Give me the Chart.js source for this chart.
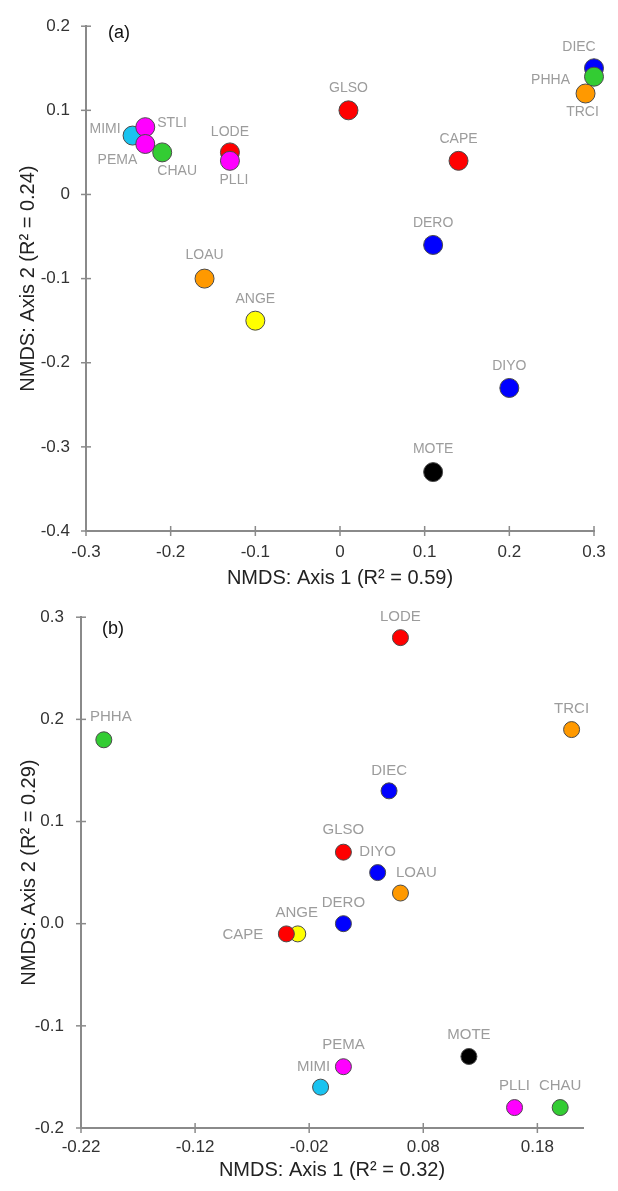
<!DOCTYPE html>
<html><head><meta charset="utf-8">
<script src="https://cdn.jsdelivr.net/npm/chart.js@4.4.1/dist/chart.umd.min.js"></script>
<style>
html,body{margin:0;padding:0;background:#fff;}
#wrap{position:relative;width:618px;height:1191px;overflow:hidden;}
canvas{position:absolute;left:0;}
</style></head><body>
<div id="wrap">
<canvas id="ca" width="618" height="590" style="top:0;width:618px;height:590px"></canvas>
<canvas id="cb" width="618" height="601" style="top:590px;width:618px;height:601px"></canvas>
</div>
<script>
// ---------- Panel (a) data ----------
const codesA = ['MIMI','STLI','PEMA','CHAU','LODE','PLLI','LOAU','ANGE','GLSO','CAPE','DERO','DIYO','MOTE','DIEC','PHHA','TRCI'];
const xA     = [-0.245,-0.23,-0.23,-0.21,-0.13,-0.13,-0.16,-0.10,0.01,0.14,0.11,0.20,0.11,0.30,0.30,0.29];
const yA     = [0.07,0.08,0.06,0.05,0.05,0.04,-0.10,-0.15,0.10,0.04,-0.06,-0.23,-0.33,0.15,0.14,0.12];
const groupA = ['cyan','magenta','magenta','green','red','magenta','orange','yellow','red','red','blue','blue','black','blue','green','orange'];
const xTicksA = [-0.3,-0.2,-0.1,0,0.1,0.2,0.3];
const xTickLabelsA = ['-0.3','-0.2','-0.1','0','0.1','0.2','0.3'];
const yTicksA = [-0.4,-0.3,-0.2,-0.1,0,0.1,0.2];
const yTickLabelsA = ['-0.4','-0.3','-0.2','-0.1','0','0.1','0.2'];

// ---------- Panel (b) data ----------
const codesB = ['PHHA','LODE','TRCI','DIEC','GLSO','DIYO','LOAU','DERO','ANGE','CAPE','PEMA','MIMI','MOTE','PLLI','CHAU'];
const xB     = [-0.20,0.06,0.21,0.05,0.01,0.04,0.06,0.01,-0.03,-0.04,0.01,-0.01,0.12,0.16,0.20];
const yB     = [0.18,0.28,0.19,0.13,0.07,0.05,0.03,0.00,-0.01,-0.01,-0.14,-0.16,-0.13,-0.18,-0.18];
const groupB = ['green','red','orange','blue','red','blue','orange','blue','yellow','red','magenta','cyan','black','magenta','green'];
const xTicksB = [-0.22,-0.12,-0.02,0.08,0.18];
const xTickLabelsB = ['-0.22','-0.12','-0.02','0.08','0.18'];
const yTicksB = [-0.2,-0.1,0,0.1,0.2,0.3];
const yTickLabelsB = ['-0.2','-0.1','0.0','0.1','0.2','0.3'];

// ---------- styles ----------
const palette = {red:'#ff0000', blue:'#0000ff', green:'#33cc33', orange:'#ff9900', yellow:'#ffff00', magenta:'#ff00ff', cyan:'#19c3f0', black:'#000000'};
const AXIS = '#8a8a8a';
const FONT = '"Liberation Sans", Arial, Helvetica, sans-serif';
Chart.defaults.font.family = FONT;

// label placement [dx, dy, align] relative to point centre
const placeA = [[-12,-6,'right'],[12,-4,'left'],[-8,16,'right'],[15,19,'center'],[0,-20,'center'],[4,19,'center'],
  [0,-23,'center'],[0,-22,'center'],[0,-22,'center'],[0,-22,'center'],[0,-22,'center'],[0,-22,'center'],[0,-23,'center'],
  [-15,-21,'center'],[-24,3,'right'],[-3,19,'center']];
const placeB = [[7,-23,'center'],[0,-21,'center'],[0,-21,'center'],[0,-20,'center'],[0,-22,'center'],[0,-21,'center'],
  [16,-20,'center'],[0,-21,'center'],[-1,-21,'center'],[-23,1,'right'],[0,-22,'center'],[-7,-20,'center'],[0,-22,'center'],
  [0,-22,'center'],[0,-22,'center']];

const crossTicks = {
  id: 'crossTicks',
  afterDraw(chart) {
    const ctx = chart.ctx; const {left, bottom} = chart.chartArea;
    const xs = chart.scales.x, ys = chart.scales.y;
    ctx.save(); ctx.strokeStyle = AXIS; ctx.lineWidth = 1.5;
    xs.ticks.forEach(t => { const p = xs.getPixelForValue(t.value); ctx.beginPath(); ctx.moveTo(p, bottom-5); ctx.lineTo(p, bottom+5); ctx.stroke(); });
    ys.ticks.forEach(t => { const p = ys.getPixelForValue(t.value); ctx.beginPath(); ctx.moveTo(left-5, p); ctx.lineTo(left+5, p); ctx.stroke(); });
    ctx.restore();
  }
};

function labelPlugin(codes, place, size, panel, px, py) {
  return {
    id: 'ptLabels',
    afterDatasetsDraw(chart) {
      const ctx = chart.ctx;
      const meta = chart.getDatasetMeta(0);
      ctx.save();
      ctx.font = size + 'px ' + FONT;
      ctx.fillStyle = '#9c9c9c';
      ctx.textBaseline = 'middle';
      meta.data.forEach((pt, i) => {
        const [dx, dy, al] = place[i];
        ctx.textAlign = al;
        ctx.fillText(codes[i], pt.x + dx, pt.y + dy);
      });
      ctx.font = '18px ' + FONT;
      ctx.fillStyle = '#111';
      ctx.textAlign = 'left';
      ctx.fillText(panel, px, py);
      ctx.restore();
    }
  };
}

function build(id, cfg) {
  const pts = cfg.xs.map((x, i) => ({x: x, y: cfg.ys[i]}));
  new Chart(document.getElementById(id), {
    type: 'scatter',
    data: { datasets: [{
      data: pts,
      backgroundColor: cfg.groups.map(g => palette[g]),
      borderColor: '#4a4a4a',
      borderWidth: 1,
      pointRadius: cfg.r,
      pointHoverRadius: cfg.r,
      clip: false
    }]},
    options: {
      responsive: false, animation: false, events: [],
      layout: { padding: cfg.pad },
      plugins: { legend: {display:false}, tooltip: {enabled:false} },
      scales: {
        x: {
          type: 'linear', min: cfg.xmin, max: cfg.xmax,
          afterBuildTicks: s => { s.ticks = cfg.xt.map(v => ({value: v})); },
          afterFit: s => { s.height = cfg.xh; },
          grid: { display: true, drawOnChartArea: false, drawTicks: false },
          border: { display: true, color: AXIS, width: 2 },
          ticks: { padding: cfg.xpad, color: '#333', font: {size: 17}, maxRotation: 0, autoSkip: false,
                   callback: (v, i) => cfg.xl[i] },
          title: { display: true, text: cfg.xtitle, color: '#222', font: {size: 20}, padding: {top: 0, bottom: cfg.xtp} }
        },
        y: {
          type: 'linear', min: cfg.ymin, max: cfg.ymax,
          afterBuildTicks: s => { s.ticks = cfg.yt.map(v => ({value: v})); },
          afterFit: s => { s.width = cfg.yw; },
          grid: { display: true, drawOnChartArea: false, drawTicks: false },
          border: { display: true, color: AXIS, width: 2 },
          ticks: { padding: cfg.ypad, color: '#333', font: {size: 17}, autoSkip: false,
                   callback: (v, i) => cfg.yl[i] },
          title: { display: true, text: cfg.ytitle, color: '#222', font: {size: 20}, padding: {top: cfg.ytp, bottom: 0} }
        }
      }
    },
    plugins: [crossTicks, labelPlugin(cfg.codes, cfg.place, cfg.fs, cfg.panel, cfg.px, cfg.py)]
  });
}

build('ca', {codes: codesA, xs: xA, ys: yA, groups: groupA, place: placeA, r: 9.5, fs: 14,
  xmin: -0.3, xmax: 0.3, ymin: -0.4, ymax: 0.2, xt: xTicksA, xl: xTickLabelsA, yt: yTicksA, yl: yTickLabelsA,
  pad: {top: 15, right: 24, left: 0, bottom: 0}, xh: 59, yw: 86, xpad: 11, ypad: 16, xtp: 0, ytp: 16,
  xtitle: 'NMDS: Axis 1 (R\u00B2 = 0.59)', ytitle: 'NMDS: Axis 2 (R\u00B2 = 0.24)', panel: '(a)', px: 108, py: 33});

build('cb', {codes: codesB, xs: xB, ys: yB, groups: groupB, place: placeB, r: 8, fs: 15,
  xmin: -0.22, xmax: 0.22, ymin: -0.2, ymax: 0.3, xt: xTicksB, xl: xTickLabelsB, yt: yTicksB, yl: yTickLabelsB,
  pad: {top: 25, right: 35, left: 0, bottom: 0}, xh: 63, yw: 81, xpad: 9, ypad: 17, xtp: 9, ytp: 17,
  xtitle: 'NMDS: Axis 1 (R\u00B2 = 0.32)', ytitle: 'NMDS: Axis 2 (R\u00B2 = 0.29)', panel: '(b)', px: 102, py: 39});
</script>
</body></html>
